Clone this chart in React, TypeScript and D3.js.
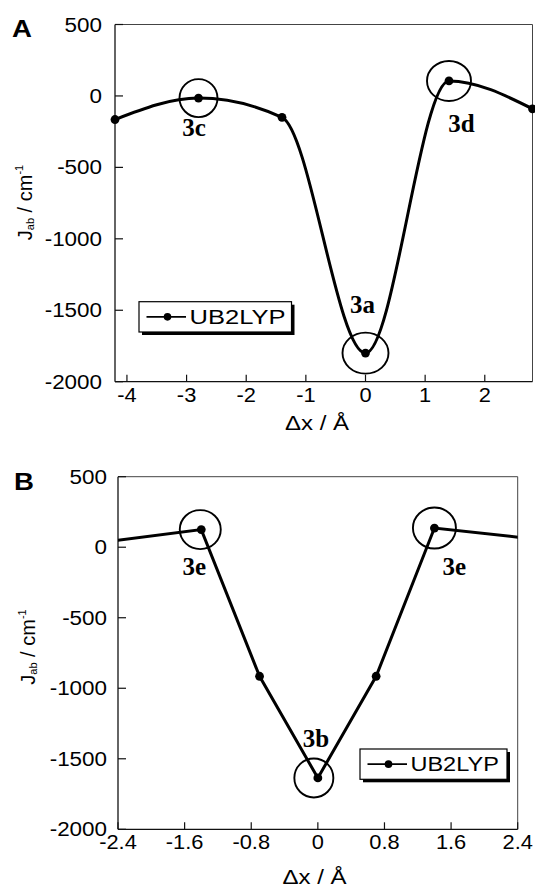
import React from "react";
import * as d3 from "d3";

// ---------- data ----------
const seriesName = "UB2LYP";
const yTicks = [500, 0, -500, -1000, -1500, -2000];

const dxA = [-4.2, -2.8, -1.4, 0, 1.4, 2.8];
const jA = [-165, -15, -150, -1800, 105, -90];
const xTicksA = [-4, -3, -2, -1, 0, 1, 2];
const labelsA = ["3c", "3d", "3a"];
const labelPtsA = [1, 4, 3];

const dxB = [-2.8, -1.4, -0.7, 0, 0.7, 1.4, 2.8];
const jB = [19, 125, -915, -1636, -915, 136, 46];
const xTicksB = [-2.4, -1.6, -0.8, 0, 0.8, 1.6, 2.4];
const labelsB = ["3e", "3e", "3b"];
const labelPtsB = [1, 5, 3];

const SANS = "'Liberation Sans', Arial, Helvetica, sans-serif";
const SERIF = "'Liberation Serif', 'Times New Roman', Times, serif";

type Ann = { dx: number; dy: number; rx: number; ry: number; cx?: number };

type PanelProps = {
  id: string;
  letter: string;
  letterPos: [number, number];
  xs: number[];
  js: number[];
  xDomain: [number, number];
  xRange: [number, number];
  yRange: [number, number];
  xTicks: number[];
  curve: d3.CurveFactory;
  labels: string[];
  labelPts: number[];
  anns: Ann[];
  yTickRight: number;
  xTickBase: number;
  yLabelPos: [number, number];
  xLabelPos: [number, number];
  legend: { x: number; y: number; w: number; h: number; textW: number };
};

function Panel(p: PanelProps) {
  const x = d3.scaleLinear().domain(p.xDomain).range(p.xRange);
  const y = d3.scaleLinear().domain([-2000, 500]).range(p.yRange);
  const pts = p.xs.map((v, i) => [v, p.js[i]] as [number, number]);
  const line = d3
    .line<[number, number]>()
    .x((d) => x(d[0]))
    .y((d) => y(d[1]))
    .curve(p.curve);
  const [x0, x1] = p.xRange;
  const [yb, yt] = p.yRange;
  const visible = pts.filter((d) => d[0] >= p.xDomain[0] - 1e-9 && d[0] <= p.xDomain[1] + 1e-9);
  const lg = p.legend;
  return (
    <g>
      <defs>
        <clipPath id={"clip" + p.id}>
          <rect x={x0} y={yt} width={x1 - x0} height={yb - yt} />
        </clipPath>
      </defs>
      {/* frame */}
      <line x1={x0} x2={x1} y1={yt} y2={yt} stroke="#444" strokeWidth={1} />
      <line x1={x1} x2={x1} y1={yt} y2={yb} stroke="#444" strokeWidth={1} />
      <line x1={x0} x2={x0} y1={yt} y2={yb} stroke="#111" strokeWidth={1.3} />
      <line x1={x0} x2={x1} y1={yb} y2={yb} stroke="#111" strokeWidth={1.3} />
      {/* y ticks */}
      {yTicks.map((t) => (
        <g key={"y" + t}>
          <line x1={x0} x2={x0 + 8} y1={y(t)} y2={y(t)} stroke="#111" strokeWidth={1.2} />
          <text
            transform={`translate(${p.yTickRight},${y(t) + 7}) scale(1.15,1)`}
            textAnchor="end"
            fontFamily={SANS}
            fontSize={19.5}
            fill="#000"
          >
            {String(t)}
          </text>
        </g>
      ))}
      {/* x ticks */}
      {p.xTicks.map((t) => (
        <g key={"x" + t}>
          <line x1={x(t)} x2={x(t)} y1={yb} y2={yb - 7} stroke="#111" strokeWidth={1.2} />
          <text
            transform={`translate(${x(t)},${p.xTickBase}) scale(1.12,1)`}
            textAnchor="middle"
            fontFamily={SANS}
            fontSize={19.5}
            fill="#000"
          >
            {String(t)}
          </text>
        </g>
      ))}
      {/* series */}
      <path
        d={line(pts) || ""}
        fill="none"
        stroke="#000"
        strokeWidth={3}
        clipPath={`url(#clip${p.id})`}
      />
      {visible.map((d, i) => (
        <circle key={"m" + i} cx={x(d[0])} cy={y(d[1])} r={4.4} fill="#000" />
      ))}
      {/* annotations */}
      {p.labels.map((lab, i) => {
        const d = pts[p.labelPts[i]];
        const a = p.anns[i];
        const cx = x(d[0]) + (a.cx || 0);
        const cy = y(d[1]);
        return (
          <g key={"a" + i}>
            <ellipse cx={cx} cy={cy} rx={a.rx} ry={a.ry} fill="none" stroke="#000" strokeWidth={1.9} />
            <text
              x={x(d[0]) + a.dx}
              y={cy + a.dy}
              textAnchor="middle"
              fontFamily={SERIF}
              fontWeight="bold"
              fontSize={25}
              fill="#000"
            >
              {lab}
            </text>
          </g>
        );
      })}
      {/* legend */}
      <rect x={lg.x + 3} y={lg.y + 3} width={lg.w} height={lg.h} fill="#000" />
      <rect x={lg.x} y={lg.y} width={lg.w} height={lg.h} fill="#fff" stroke="#000" strokeWidth={1.2} />
      <line x1={lg.x + 7.5} x2={lg.x + 47} y1={lg.y + lg.h / 2} y2={lg.y + lg.h / 2} stroke="#000" strokeWidth={1.6} />
      <circle cx={lg.x + 28.5} cy={lg.y + lg.h / 2} r={3.8} fill="#000" />
      <text
        x={lg.x + 50.5}
        y={lg.y + lg.h / 2 + 7.3}
        fontFamily={SANS}
        fontSize={20}
        textLength={lg.textW}
        lengthAdjust="spacingAndGlyphs"
        fill="#000"
      >
        {seriesName}
      </text>
      {/* axis titles */}
      <text
        transform={`translate(${p.yLabelPos[0]},${p.yLabelPos[1]}) rotate(-90)`}
        textAnchor="middle"
        fontFamily={SANS}
        fontSize={20}
        fill="#000"
      >
        <tspan>J</tspan>
        <tspan fontSize={11} dy={2}>ab</tspan>
        <tspan dy={-2}>{"  / cm"}</tspan>
        <tspan fontSize={11} dy={-9}>-1</tspan>
      </text>
      <text
        transform={`translate(${p.xLabelPos[0]},${p.xLabelPos[1]}) scale(1.2,1)`}
        textAnchor="middle"
        fontFamily={SANS}
        fontSize={20}
        fill="#000"
      >
        Δx / Å
      </text>
      {/* panel letter */}
      <text
        transform={`translate(${p.letterPos[0]},${p.letterPos[1]}) scale(1.15,1)`}
        fontFamily={SANS}
        fontWeight="bold"
        fontSize={24}
        fill="#000"
      >
        {p.letter}
      </text>
    </g>
  );
}

export default function App() {
  return (
    <svg
      width={535}
      height={888}
      viewBox="0 0 535 888"
      style={{ position: "absolute", left: 0, top: 0, background: "#fff" }}
    >
      <rect width={535} height={888} fill="#fff" />
      <Panel
        id="A"
        letter="A"
        letterPos={[12, 37]}
        xs={dxA}
        js={jA}
        xDomain={[-4.2, 2.8]}
        xRange={[115, 532.5]}
        yRange={[381.7, 24.5]}
        xTicks={xTicksA}
        curve={d3.curveMonotoneX}
        labels={labelsA}
        labelPts={labelPtsA}
        anns={[
          { dx: -4.5, dy: 38, rx: 19, ry: 19 },
          { dx: 12.5, dy: 51, rx: 22, ry: 20 },
          { dx: -3, dy: -40.5, rx: 23, ry: 20.5 },
        ]}
        yTickRight={102}
        xTickBase={402}
        yLabelPos={[32, 202.5]}
        xLabelPos={[317, 430]}
        legend={{ x: 139, y: 301.7, w: 152.5, h: 30.3, textW: 96 }}
      />
      <Panel
        id="B"
        letter="B"
        letterPos={[14, 490]}
        xs={dxB}
        js={jB}
        xDomain={[-2.4, 2.4]}
        xRange={[118, 517.7]}
        yRange={[829.3, 476.7]}
        xTicks={xTicksB}
        curve={d3.curveLinear}
        labels={labelsB}
        labelPts={labelPtsB}
        anns={[
          { dx: -7, dy: 45.5, rx: 20.5, ry: 19.5, cx: -1 },
          { dx: 20, dy: 47, rx: 21.5, ry: 20.5 },
          { dx: -2, dy: -31, rx: 19.5, ry: 19.5, cx: -4 },
        ]}
        yTickRight={107}
        xTickBase={848.5}
        yLabelPos={[35, 647]}
        xLabelPos={[314.5, 883.5]}
        legend={{ x: 360, y: 749, w: 147, h: 30.3, textW: 88.3 }}
      />
    </svg>
  );
}
